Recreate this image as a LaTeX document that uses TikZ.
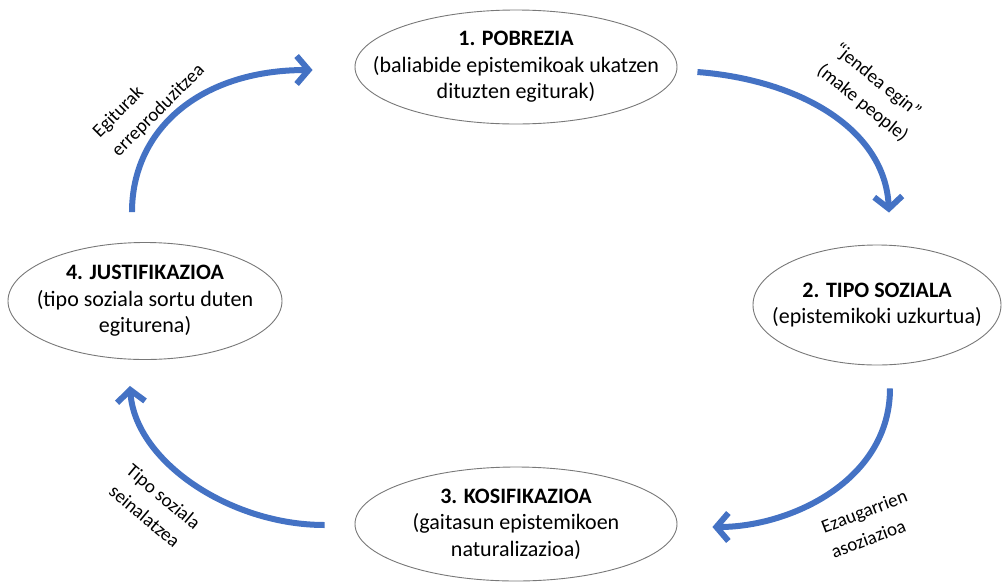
\documentclass[tikz,border=0pt]{standalone}
\usepackage{fontspec}
\setmainfont{Carlito}
\usepackage{tikz}
\usetikzlibrary{arrows.meta,shapes,positioning}
\definecolor{cycblue}{RGB}{68,114,196}
\definecolor{rimgray}{RGB}{120,120,120}
\tikzstyle{stage} = [ellipse, draw=rimgray, line width=0.9pt, align=center, inner xsep=-80pt, inner ysep=-40pt, font=\fontsize{22}{26.5}\selectfont]
\tikzstyle{link} = [draw=cycblue, line width=6pt, -{Straight Barb[length=12pt,width=28pt]}]
\tikzstyle{note} = [align=left, inner sep=0pt, font=\fontsize{19}{27}\selectfont]

\begin{document}
\begin{tikzpicture}[x=1pt, y=1pt]
        \useasboundingbox (-516,-515) rectangle (488,67);

        \node[stage, minimum width=322pt, minimum height=114pt] (pob) {\textbf{1. POBREZIA}\\(baliabide epistemikoak ukatzen\\dituzten egiturak)};
        \node[stage, minimum width=248pt, minimum height=120pt, right of=pob, node distance=361pt, yshift=-238pt] (tipo) {\textbf{2. TIPO SOZIALA}\\(epistemikoki uzkurtua)};
        \node[stage, minimum width=322pt, minimum height=114pt, below of=pob, node distance=457pt] (kos) {\textbf{3. KOSIFIKAZIOA}\\(gaitasun epistemikoen\\naturalizazioa)};
        \node[stage, minimum width=274pt, minimum height=117pt, left of=pob, node distance=371pt, yshift=-234pt] (just) {\textbf{4. JUSTIFIKAZIOA}\\(tipo soziala sortu duten\\egiturena)};

        \node[note, above of=tipo, node distance=212pt, xshift=-6pt, rotate=-39] (make) {“jendea egin”\\(make people)};
        \node[note, below of=tipo, node distance=219pt, xshift=-8pt, rotate=21] (asoz) {Ezaugarrien\\asoziazioa};
        \node[note, below of=just, node distance=206pt, xshift=10pt, rotate=-40] (sein) {Tipo soziala\\seinalatzea};
        \node[note, above of=just, node distance=200pt, xshift=4pt, rotate=45] (erre) {Egiturak\\erreproduzitzea};

        % cycle
        \draw[link] ([shift={(20,-5)}]pob.east) .. controls +(103,-8) and +(-4,83) .. ([shift={(12,32)}]tipo.north);
        \draw[link] ([shift={(13,-23)}]tipo.south) .. controls +(0,-92) and +(78,0) .. ([shift={(35,-3)}]kos.east);
        \draw[link] ([shift={(-30,-1)}]kos.west) .. controls +(-95,0) and +(5,-75) .. ([shift={(-15,-26)}]just.south);
        \draw[link] ([shift={(-13,30)}]just.north) .. controls +(0,82) and +(-113,0) .. ([shift={(-42,-3)}]pob.west);
\end{tikzpicture}
\end{document}
